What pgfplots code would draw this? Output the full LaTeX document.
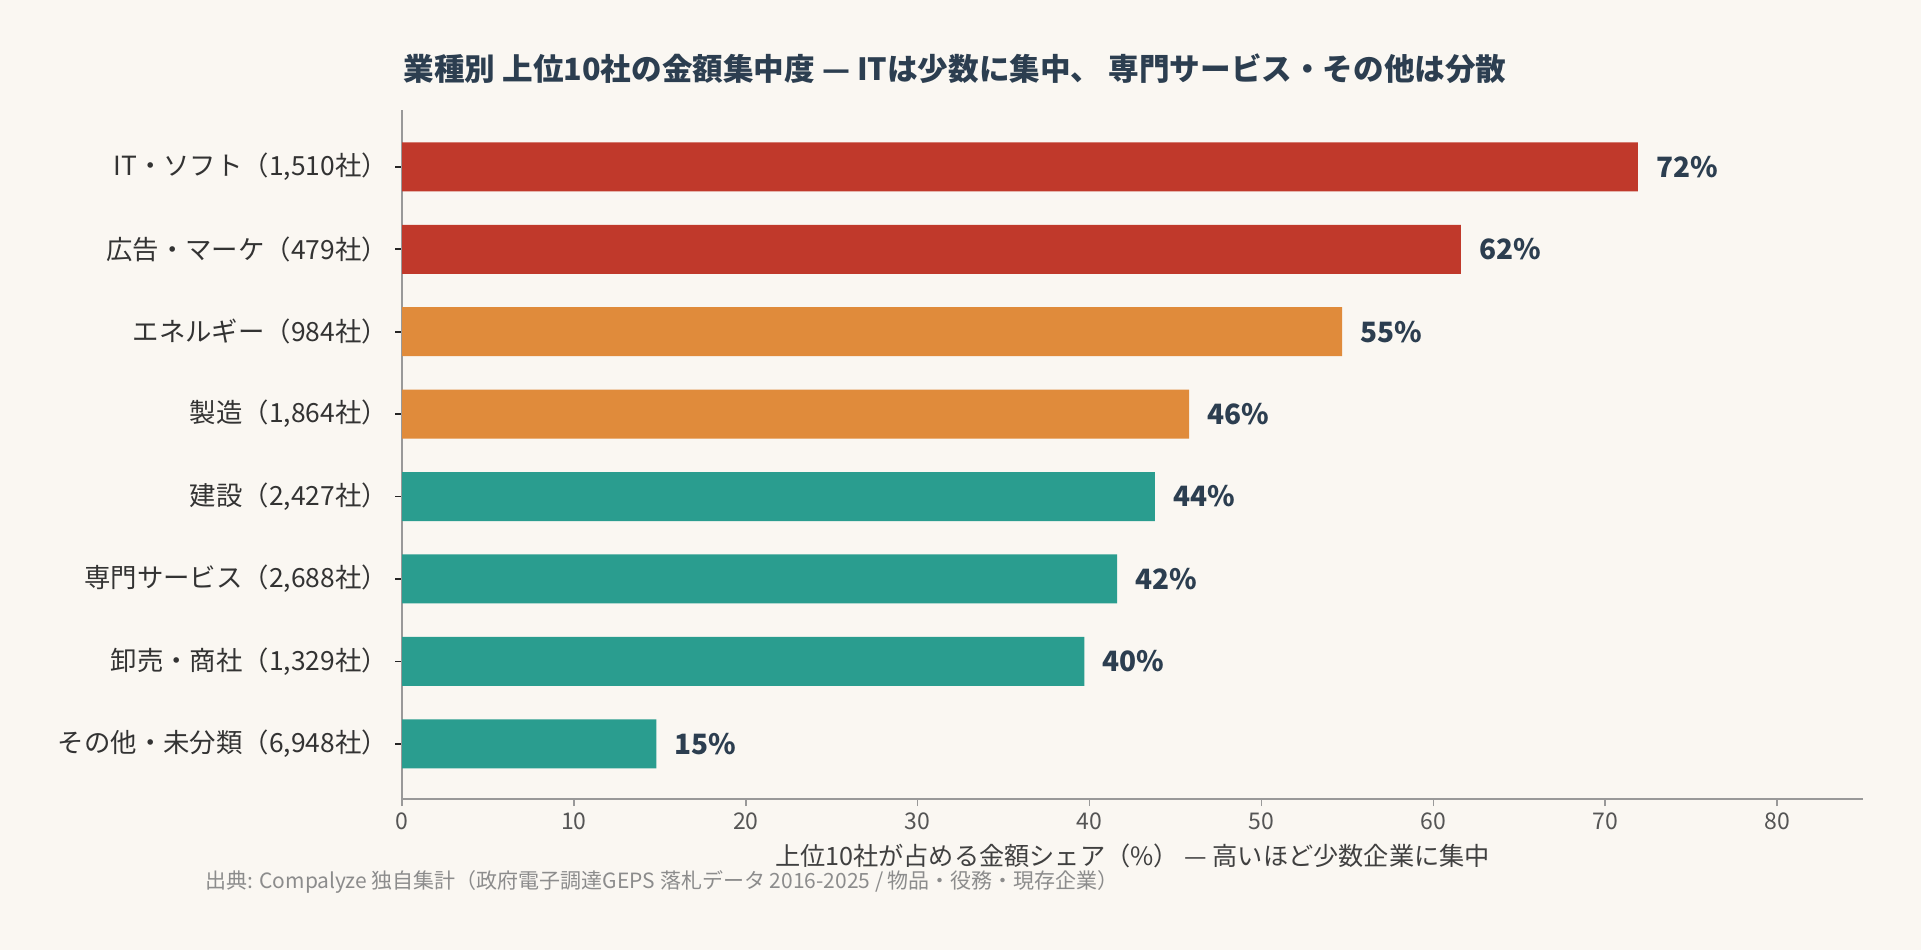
\documentclass[border=0pt]{standalone}
\usepackage{fontspec}
\setmainfont{Noto Sans CJK JP}
\usepackage{pgfplots}
\pgfplotsset{compat=1.18}

\definecolor{bg}{HTML}{FAF7F2}
\definecolor{redbar}{HTML}{C0392B}
\definecolor{orangebar}{HTML}{E08B3B}
\definecolor{tealbar}{HTML}{2A9D8F}
\definecolor{ink}{HTML}{2C3E50}
\definecolor{ticktext}{HTML}{555555}
\definecolor{spine}{HTML}{999999}

\begin{document}
\begin{tikzpicture}
\fill[bg] (0,0) rectangle (960.5pt,475pt);

\begin{axis}[
  at={(201pt,75.5pt)}, anchor=south west,
  scale only axis, width=730.5pt, height=344.5pt,
  xbar, bar width=24.5pt, bar shift=0pt,
  xmin=0, xmax=85,
  ymin=-0.69, ymax=7.67, y dir=reverse,
  axis x line*=bottom, axis y line*=left,
  axis line style={-, spine, line width=0.8pt},
  xtick={0,10,...,80},
  ytick={0,...,7},
  yticklabels={{IT・ソフト（1,510社）},{広告・マーケ（479社）},{エネルギー（984社）},{製造（1,864社）},{建設（2,427社）},{専門サービス（2,688社）},{卸売・商社（1,329社）},{その他・未分類（6,948社）}},
  tick align=outside, major tick length=3.5pt,
  x tick style={spine, line width=0.8pt},
  y tick style={black!85, line width=0.8pt},
  /pgf/number format/assume math mode=true,
  xticklabel style={font=\fontsize{11.5}{13}\selectfont, text=ticktext},
  yticklabel style={font=\fontsize{13.2}{15}\selectfont, text=black!80},
  xlabel={上位10社が占める金額シェア（\%） — 高いほど少数企業に集中},
  xlabel style={font=\fontsize{12.6}{14}\selectfont, text=black!75},
  point meta=x,
  nodes near coords={\pgfmathprintnumber[fixed,precision=0]{\pgfplotspointmeta}\%},
  nodes near coords style={font=\bfseries\fontsize{14}{16}\selectfont, text=ink, anchor=west, inner sep=0pt, xshift=9pt},
]
\addplot[fill=redbar, draw=none] coordinates {(71.9,0) (61.6,1)};
\addplot[fill=orangebar, draw=none] coordinates {(54.7,2) (45.8,3)};
\addplot[fill=tealbar, draw=none] coordinates {(43.8,4) (41.6,5) (39.7,6) (14.8,7)};
\end{axis}

\node[font=\bfseries\fontsize{15.3}{18}\selectfont, text=ink, anchor=center] at (477.5pt,440.5pt)
  {業種別 上位10社の金額集中度 — ITは少数に集中、 専門サービス・その他は分散};
\node[font=\fontsize{10.5}{12}\selectfont, text=black!45, anchor=west, inner sep=0pt] at (102.5pt,34pt)
  {出典: Compalyze 独自集計（政府電子調達GEPS 落札データ 2016-2025 / 物品・役務・現存企業）};

\pgfresetboundingbox
\path (0,0) rectangle (960.5pt,475pt);
\end{tikzpicture}
\end{document}
